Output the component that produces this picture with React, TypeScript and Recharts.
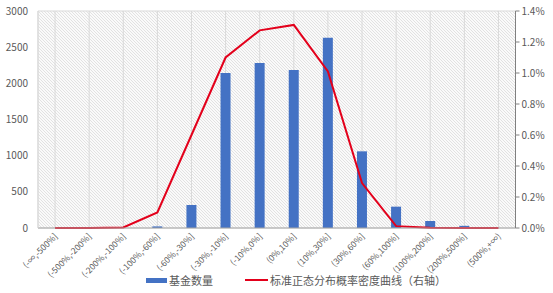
import React from 'react';
import { ComposedChart, Bar, Line, XAxis, YAxis, CartesianGrid, Legend } from 'recharts';

const categories = [
  '(-∞,-500%]', '(-500%,-200%]', '(-200%,-100%]', '(-100%,-60%]', '(-60%,-30%]',
  '(-30%,-10%]', '(-10%,0%]', '(0%,10%]', '(10%,30%]', '(30%,60%]',
  '(60%,100%]', '(100%,200%]', '(200%,500%]', '(500%,+∞)',
];
const fundCounts = [0, 0, 0, 22, 318, 2143, 2281, 2184, 2631, 1060, 295, 97, 30, 0];
const densityPct = [0, 0, 0.003, 0.1, 0.6, 1.1, 1.275, 1.31, 1.01, 0.29, 0.012, 0.002, 0, 0];
const leftTicks = [0, 500, 1000, 1500, 2000, 2500, 3000];
const rightTicks = [0, 0.2, 0.4, 0.6, 0.8, 1.0, 1.2, 1.4];
const barName = '基金数量';
const lineName = '标准正态分布概率密度曲线（右轴）';

const data = categories.map((c, i) => ({ name: c, count: fundCounts[i], density: densityPct[i] }));

const FONT = '"Microsoft YaHei", "Noto Sans CJK SC", "DejaVu Sans", sans-serif';

const XTick = (props: any) => {
  const { x, y, payload } = props;
  return (
    <g transform={`translate(${x + 3},${y + 9})`}>
      <text transform="rotate(-45)" textAnchor="end" fontSize={8.5} fill="#595959" fontFamily={FONT}>
        {payload.value}
      </text>
    </g>
  );
};

const renderLegend = () => (
  <div style={{ position: 'relative', height: 23, fontFamily: FONT, fontSize: 11, color: '#595959' }}>
    <div style={{ position: 'absolute', left: 146, top: 8, width: 21, height: 5, background: '#4472C4' }} />
    <span style={{ position: 'absolute', left: 169, top: 2, whiteSpace: 'nowrap' }}>{barName}</span>
    <div style={{ position: 'absolute', left: 245, top: 9, width: 23, height: 2, background: '#E3001B' }} />
    <span style={{ position: 'absolute', left: 270, top: 2, whiteSpace: 'nowrap' }}>{lineName}</span>
  </div>
);

export default function App() {
  return (
    <div style={{ position: 'absolute', left: 0, top: 0, width: 553, height: 293, background: '#fff' }}>
      <ComposedChart width={553} height={293} data={data} margin={{ top: 11, right: 0, left: 0, bottom: 0 }} barSize={10}>
        <defs>
          <pattern id="hatch" patternUnits="userSpaceOnUse" width="3" height="3">
            <rect width="3" height="3" fill="#fafafa" />
            <path d="M-1,-1 L4,4 M-1,2 L1,4 M2,-1 L4,1" stroke="#dcdcdc" strokeWidth="0.8" />
          </pattern>
        </defs>
        <CartesianGrid stroke="#d9d9d9" fill="url(#hatch)" vertical={true} horizontal={true} />
        <XAxis
          dataKey="name"
          interval={0}
          height={42}
          tick={<XTick />}
          tickLine={false}
          tickSize={0}
          tickMargin={0}
          axisLine={{ stroke: '#a6a6a6' }}
        />
        <YAxis
          yAxisId="left"
          orientation="left"
          width={38}
          domain={[0, 3000]}
          ticks={leftTicks}
          tick={{ fontSize: 10, fill: '#595959', fontFamily: FONT }}
          tickLine={false}
          axisLine={{ stroke: '#d9d9d9' }}
          tickMargin={4}
        />
        <YAxis
          yAxisId="right"
          orientation="right"
          width={37.5}
          domain={[0, 1.4]}
          ticks={rightTicks}
          tickFormatter={(v: number) => `${v.toFixed(1)}%`}
          tick={{ fontSize: 10, fill: '#595959', fontFamily: FONT }}
          tickLine={{ stroke: '#808080' }}
          tickSize={4}
          axisLine={{ stroke: '#808080' }}
        />
        <Legend verticalAlign="bottom" height={23} content={renderLegend} />
        <Bar yAxisId="left" dataKey="count" name={barName} fill="#4472C4" isAnimationActive={false} />
        <Line
          yAxisId="right"
          dataKey="density"
          name={lineName}
          type="linear"
          stroke="#E3001B"
          strokeWidth={2}
          dot={false}
          activeDot={false}
          isAnimationActive={false}
        />
      </ComposedChart>
    </div>
  );
}
